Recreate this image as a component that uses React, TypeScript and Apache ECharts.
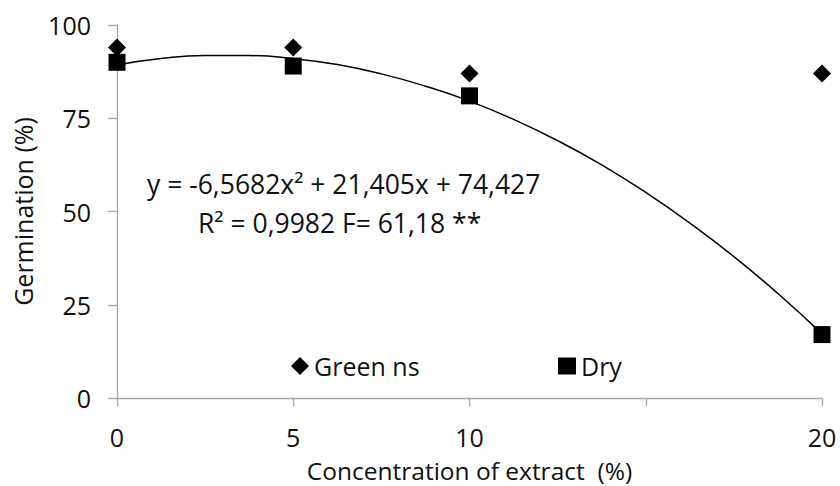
import React, { useEffect, useRef } from "react";
import * as echarts from "echarts";

// x positions on the chart (1..5) and the labels shown under their ticks
const xTicks = [1, 2, 3, 4, 5];
const xTickLabels = ["0", "5", "10", "", "20"];

// observed points (x position index, germination %)
const greenX = [1, 2, 3, 5];
const greenY = [94, 94, 87, 87];
const dryX = [1, 2, 3, 5];
const dryY = [90, 89, 81, 17];

// polynomial trend line for Dry
const trendX = [1, 1.25, 1.5, 1.75, 2, 2.25, 2.5, 2.75, 3, 3.25, 3.5, 3.75, 4, 4.25, 4.5, 4.75, 5];
const trendY = [89.3, 91.0, 91.8, 91.8, 91.0, 89.4, 86.9, 83.6, 79.6, 74.7, 69.0, 62.5, 55.1, 46.9, 37.9, 28.0, 17.2];

const yTicks = [0, 25, 50, 75, 100];

const equationText = "y = -6,5682x\u00b2 + 21,405x + 74,427";
const rText = "R\u00b2 = 0,9982 F= 61,18 **";

const FONT = "Open Sans";
const FS = 25;
const ANN_FS = 26.5;
const TEXT_COLOR = "#111111";
const AXIS_COLOR = "#a6a6a6";

export default function App() {
  const ref = useRef<HTMLDivElement>(null);
  useEffect(() => {
    if (!ref.current) return;
    const chart = echarts.init(ref.current, undefined, { renderer: "svg" });
    const labelMap: Record<number, string> = {};
    xTicks.forEach((t, i) => (labelMap[t] = xTickLabels[i]));
    chart.setOption({
      animation: false,
      backgroundColor: "#ffffff",
      textStyle: { fontFamily: FONT },
      grid: { left: 117, right: 18, top: 25, bottom: 88, containLabel: false, outerBoundsMode: "none" },
      xAxis: {
        type: "value",
        min: 1,
        max: 5,
        interval: 1,
        position: "bottom",
        name: "Concentration of extract  (%)",
        nameLocation: "middle",
        nameGap: 61,
        nameMoveOverlap: false,
        nameTextStyle: { fontFamily: FONT, fontSize: 24.5, color: TEXT_COLOR, lineHeight: 22 },
        axisLine: { show: true, onZero: false, lineStyle: { color: AXIS_COLOR, width: 1.3 } },
        axisTick: { show: true, inside: false, length: 8, lineStyle: { color: AXIS_COLOR, width: 1.3 } },
        splitLine: { show: false },
        axisLabel: {
          margin: 28,
          fontFamily: FONT,
          fontSize: FS,
          lineHeight: 22,
          color: TEXT_COLOR,
          formatter: (v: number) => labelMap[v] ?? "",
        },
      },
      yAxis: {
        type: "value",
        min: yTicks[0],
        max: yTicks[yTicks.length - 1],
        interval: 25,
        name: "Germination (%)",
        nameLocation: "middle",
        nameGap: 81,
        nameTextStyle: { fontFamily: FONT, fontSize: FS, color: TEXT_COLOR, lineHeight: 26 },
        axisLine: { show: true, lineStyle: { color: AXIS_COLOR, width: 1.3 } },
        axisTick: { show: true, inside: false, length: 9, lineStyle: { color: AXIS_COLOR, width: 1.3 } },
        splitLine: { show: false },
        axisLabel: { margin: 26, fontFamily: FONT, fontSize: FS, color: TEXT_COLOR },
      },
      legend: [
        {
          data: [{ name: "Green ns", icon: "diamond" }],
          left: 286,
          top: 348,
          itemWidth: 18,
          itemHeight: 18,
          itemGap: 0,
          textStyle: { fontFamily: FONT, fontSize: FS, color: TEXT_COLOR, lineHeight: 26 },
          selectedMode: false,
        },
        {
          data: [{ name: "Dry", icon: "rect" }],
          left: 553,
          top: 348,
          itemWidth: 18,
          itemHeight: 17,
          itemGap: 0,
          textStyle: { fontFamily: FONT, fontSize: FS, color: TEXT_COLOR, lineHeight: 26 },
          selectedMode: false,
        },
      ],
      graphic: [
        {
          type: "text",
          x: 147,
          y: 184,
          style: {
            text: equationText,
            fontFamily: FONT,
            fontSize: ANN_FS,
            fill: TEXT_COLOR,
            align: "left",
            verticalAlign: "middle",
          },
        },
        {
          type: "text",
          x: 198,
          y: 223,
          style: {
            text: rText,
            fontFamily: FONT,
            fontSize: ANN_FS,
            fill: TEXT_COLOR,
            align: "left",
            verticalAlign: "middle",
          },
        },
      ],
      series: [
        {
          name: "Dry trend",
          type: "line",
          data: trendX.map((x, i) => [x, trendY[i]]),
          smooth: true,
          showSymbol: false,
          symbol: "none",
          lineStyle: { color: "#000000", width: 1.5 },
          z: 1,
        },
        {
          name: "Green ns",
          type: "scatter",
          symbol: "diamond",
          symbolSize: [18, 18],
          itemStyle: { color: "#000000", opacity: 1 },
          data: greenX.map((x, i) => [x, greenY[i]]),
          z: 3,
        },
        {
          name: "Dry",
          type: "scatter",
          symbol: "rect",
          symbolSize: [17, 17],
          itemStyle: { color: "#000000", opacity: 1 },
          data: dryX.map((x, i) => [x, dryY[i]]),
          z: 2,
        },
      ],
    });
    return () => chart.dispose();
  }, []);
  return (
    <div
      ref={ref}
      style={{ position: "fixed", left: 0, top: 0, width: 840, height: 486, background: "#fff" }}
    />
  );
}
